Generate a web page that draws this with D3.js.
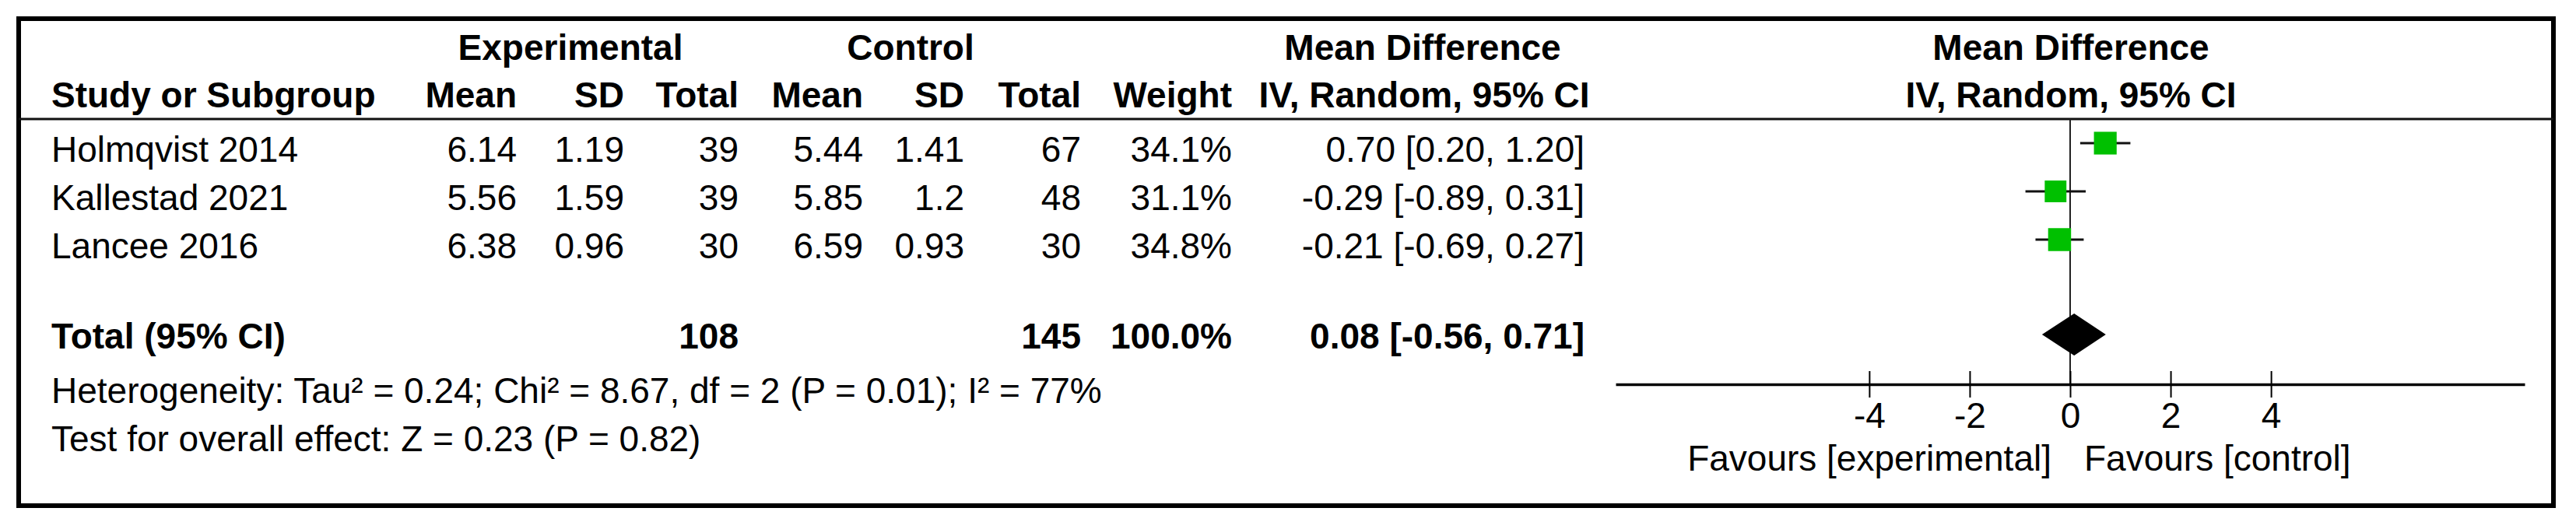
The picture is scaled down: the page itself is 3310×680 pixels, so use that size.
<!DOCTYPE html>
<html>
<head>
<meta charset="utf-8">
<script src="https://cdn.jsdelivr.net/npm/d3@7"></script>
<style>
  body { margin: 0; background: #fff; }
  text { font-family: "Liberation Sans", Arial, sans-serif; fill: #000; }
  .bold { font-weight: bold; }
</style>
</head>
<body>
<div id="forest"></div>
<script>
// data
var studies = ["Holmqvist 2014", "Kallestad 2021", "Lancee 2016"];
var expMean = ["6.14", "5.56", "6.38"];
var expSD = ["1.19", "1.59", "0.96"];
var expTotal = [39, 39, 30];
var ctlMean = ["5.44", "5.85", "6.59"];
var ctlSD = ["1.41", "1.2", "0.93"];
var ctlTotal = [67, 48, 30];
var weights = [34.1, 31.1, 34.8];
var md = [0.70, -0.29, -0.21];
var ciLow = [0.20, -0.89, -0.69];
var ciHigh = [1.20, 0.31, 0.27];
var totalMD = [0.08, -0.56, 0.71];
var totalN = [108, 145];
var tickVals = [-4, -2, 0, 2, 4];

// svg params
var svgWidth = 3310;
var svgHeight = 680;
var fontSize = 46;

var svg = d3.select("#forest")
  .append("svg")
  .attr("width", svgWidth)
  .attr("height", svgHeight);

// frame
svg.append("rect")
  .attr("x", 24).attr("y", 24)
  .attr("width", 3257).attr("height", 626)
  .attr("fill", "none")
  .attr("stroke", "#000")
  .attr("stroke-width", 6);

svg.append("line")
  .attr("x1", 24).attr("x2", 3281)
  .attr("y1", 153).attr("y2", 153)
  .attr("stroke", "#111")
  .attr("stroke-width", 3);

// table columns (right edges)
var cols = {
  study: 66, expMean: 664, expSD: 802, expTotal: 949,
  ctlMean: 1109, ctlSD: 1239, ctlTotal: 1389, weight: 1583, ci: 2036
};

var rowY = d3.scalePoint().domain(studies).range([208, 332]);

function txt(x, y, s, anchor, bold) {
  return svg.append("text")
    .attr("x", x).attr("y", y)
    .attr("text-anchor", anchor || "end")
    .attr("class", bold ? "bold" : null)
    .style("font-size", fontSize + "px")
    .text(s);
}

// headers
txt(733, 77, "Experimental", "middle", true);
txt(1170, 77, "Control", "middle", true);
txt(1828, 77, "Mean Difference", "middle", true);
txt(2661, 77, "Mean Difference", "middle", true);
txt(cols.study, 138, "Study or Subgroup", "start", true);
txt(cols.expMean, 138, "Mean", "end", true);
txt(cols.expSD, 138, "SD", "end", true);
txt(cols.expTotal, 138, "Total", "end", true);
txt(cols.ctlMean, 138, "Mean", "end", true);
txt(cols.ctlSD, 138, "SD", "end", true);
txt(cols.ctlTotal, 138, "Total", "end", true);
txt(cols.weight, 138, "Weight", "end", true);
txt(1830, 138, "IV, Random, 95% CI", "middle", true);
txt(2661, 138, "IV, Random, 95% CI", "middle", true);

// plain hyphen for negatives, as in the original
var fmt = function(v) { return v.toFixed(2); };

// study rows
studies.forEach(function(s, i) {
  var y = rowY(s);
  txt(cols.study, y, s, "start");
  txt(cols.expMean, y, expMean[i]);
  txt(cols.expSD, y, expSD[i]);
  txt(cols.expTotal, y, expTotal[i]);
  txt(cols.ctlMean, y, ctlMean[i]);
  txt(cols.ctlSD, y, ctlSD[i]);
  txt(cols.ctlTotal, y, ctlTotal[i]);
  txt(cols.weight, y, weights[i].toFixed(1) + "%");
  txt(cols.ci, y, fmt(md[i]) + " [" + fmt(ciLow[i]) + ", " + fmt(ciHigh[i]) + "]");
});

// total row
txt(cols.study, 448, "Total (95% CI)", "start", true);
txt(cols.expTotal, 448, totalN[0], "end", true);
txt(cols.ctlTotal, 448, totalN[1], "end", true);
txt(cols.weight, 448, "100.0%", "end", true);
txt(cols.ci, 448, fmt(totalMD[0]) + " [" + fmt(totalMD[1]) + ", " + fmt(totalMD[2]) + "]", "end", true);

txt(cols.study, 518, "Heterogeneity: Tau\u00b2 = 0.24; Chi\u00b2 = 8.67, df = 2 (P = 0.01); I\u00b2 = 77%", "start");
txt(cols.study, 580, "Test for overall effect: Z = 0.23 (P = 0.82)", "start");

// forest plot scale
var xScale = d3.scaleLinear()
  .domain([-9.05, 9.05])
  .range([2076, 3244]);

var axisY = 494;

// line of no effect
svg.append("line")
  .attr("x1", xScale(0)).attr("x2", xScale(0))
  .attr("y1", 153).attr("y2", axisY)
  .attr("stroke", "#222")
  .attr("stroke-width", 2);

// confidence intervals
var rowMid = studies.map(function(s) { return rowY(s) - 24; });

svg.selectAll(".ciLine")
  .data(studies)
  .enter()
  .append("line")
  .attr("class", "ciLine")
  .attr("x1", (d, i) => xScale(ciLow[i]))
  .attr("x2", (d, i) => xScale(ciHigh[i]))
  .attr("y1", (d, i) => rowMid[i])
  .attr("y2", (d, i) => rowMid[i])
  .attr("stroke", "#111")
  .attr("stroke-width", 3);

// weight squares
var side = d3.scaleSqrt().domain([0, 100]).range([0, 50]);

svg.selectAll(".wSquare")
  .data(studies)
  .enter()
  .append("rect")
  .attr("class", "wSquare")
  .attr("x", (d, i) => xScale(md[i]) - side(weights[i]) / 2)
  .attr("y", (d, i) => rowMid[i] - side(weights[i]) / 2)
  .attr("width", (d, i) => side(weights[i]))
  .attr("height", (d, i) => side(weights[i]))
  .attr("fill", "#00c000");

// pooled diamond
var dy = 430, dh = 27;
svg.append("path")
  .attr("d", "M" + xScale(totalMD[1]) + "," + dy +
    "L" + xScale(totalMD[0]) + "," + (dy - dh) +
    "L" + xScale(totalMD[2]) + "," + dy +
    "L" + xScale(totalMD[0]) + "," + (dy + dh) + "Z")
  .attr("fill", "#000");

// axis
var axis = d3.axisBottom(xScale)
  .tickValues(tickVals)
  .tickSize(17)
  .tickSizeOuter(0)
  .tickFormat(d => d < 0 ? "-" + Math.abs(d) : String(d));

var axisG = svg.append("g")
  .attr("transform", `translate(0, ${axisY})`)
  .call(axis);

axisG.select(".domain").attr("stroke", "#000").attr("stroke-width", 3.5);
axisG.selectAll(".tick line")
  .attr("y1", -17).attr("y2", 17)
  .attr("stroke", "#000").attr("stroke-width", 2);
axisG.selectAll(".tick text")
  .attr("y", 56).attr("dy", null)
  .style("font-family", "'Liberation Sans', Arial, sans-serif")
  .style("font-size", fontSize + "px")
  .attr("fill", "#000");

txt(xScale(0) - 24, 605, "Favours [experimental]", "end");
txt(xScale(0) + 18, 605, "Favours [control]", "start");
</script>
</body>
</html>
